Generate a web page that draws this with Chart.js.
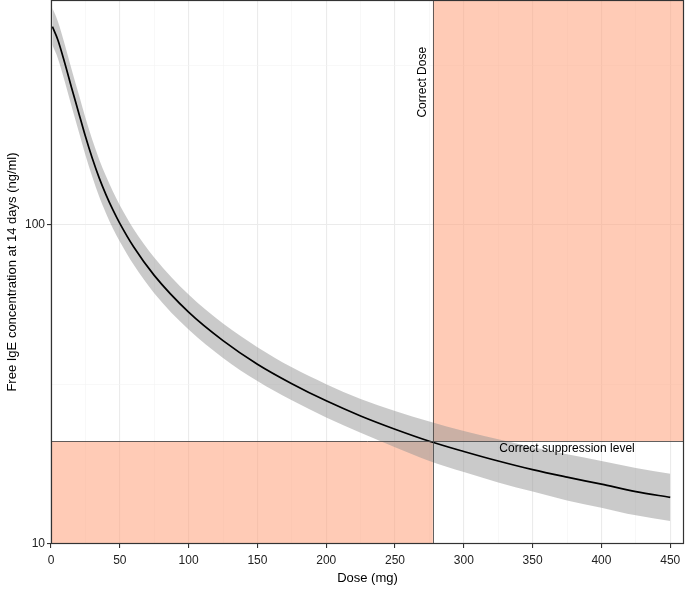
<!DOCTYPE html>
<html>
<head>
<meta charset="utf-8">
<script src="https://cdn.jsdelivr.net/npm/chart.js@4/dist/chart.umd.min.js"></script>
<style>
  html, body { margin: 0; padding: 0; background: #fff; }
  canvas { display: block; }
</style>
</head>
<body>
<canvas id="grafico" width="685" height="590"></canvas>
<script>
// values
const doses = [1, 5, 10, 15, 20, 25, 30, 35, 40, 45, 50, 60, 75, 100, 125, 150, 175, 200, 225, 250, 275, 300, 325, 350, 375, 400, 425, 450];
const fitted = [418.4, 380.1, 321.9, 268.8, 225.7, 189.5, 161.7, 140.4, 124.2, 111.4, 101.1, 85.4, 69.5, 53.3, 43.4, 36.6, 31.8, 28.1, 25.2, 22.9, 21.0, 19.5, 18.2, 17.1, 16.2, 15.4, 14.6, 14.0];
const upperCI = [478.2, 434.4, 367.9, 307.2, 258.0, 216.6, 184.8, 160.5, 142.0, 127.3, 115.3, 97.2, 79.1, 60.5, 49.1, 41.4, 35.8, 31.7, 28.5, 26.1, 24.2, 22.6, 21.3, 20.1, 19.1, 18.2, 17.3, 16.6];
const lowerCI = [366.1, 332.6, 281.7, 235.2, 197.5, 165.8, 141.5, 122.8, 108.7, 97.5, 88.7, 75.1, 61.1, 47.0, 38.3, 32.4, 28.2, 24.9, 22.3, 20.1, 18.2, 16.8, 15.6, 14.6, 13.7, 13.0, 12.3, 11.8];

const correctDose = 277.5;
const suppressionLevel = 21;

const xTicks = [0, 25, 50, 75, 100, 125, 150, 175, 200, 225, 250, 275, 300, 325, 350, 375, 400, 425, 450];
const xLabelled = [0, 50, 100, 150, 200, 250, 300, 350, 400, 450];
const yTicks = [10, 31.62, 100, 316.2];
const yLabelled = [10, 100];

const pts = arr => doses.map((d, i) => ({ x: d, y: arr[i] }));

const salmon = 'rgba(255,160,122,0.55)';
const fuente = '"Liberation Sans", Arial, sans-serif';

const zonas = {
    id: 'zonas',
    beforeDatasetsDraw(chart) {
        const { ctx, chartArea: a, scales: { x, y } } = chart;
        const xd = x.getPixelForValue(correctDose);
        const ys = y.getPixelForValue(suppressionLevel);
        ctx.save();
        ctx.fillStyle = salmon;
        // above suppression level, right of correct dose
        ctx.fillRect(xd, a.top, a.right - xd, ys - a.top);
        // below suppression level, left of correct dose
        ctx.fillRect(a.left, ys, xd - a.left, a.bottom - ys);
        ctx.restore();
    },
    afterDatasetsDraw(chart) {
        const { ctx, chartArea: a, scales: { x, y } } = chart;
        const xd = x.getPixelForValue(correctDose);
        const ys = y.getPixelForValue(suppressionLevel);
        ctx.save();
        ctx.strokeStyle = 'rgba(70,70,70,0.85)';
        ctx.lineWidth = 1;
        ctx.beginPath();
        ctx.moveTo(Math.round(xd) + 0.5, a.top);
        ctx.lineTo(Math.round(xd) + 0.5, a.bottom);
        ctx.moveTo(a.left, Math.round(ys) + 0.5);
        ctx.lineTo(a.right, Math.round(ys) + 0.5);
        ctx.stroke();

        // panel border
        ctx.strokeStyle = '#333';
        ctx.lineWidth = 1.2;
        ctx.strokeRect(a.left + 0.5, a.top + 0.5, a.right - a.left - 1, a.bottom - a.top - 1);

        ctx.fillStyle = '#000';
        ctx.font = '12px ' + fuente;
        ctx.textAlign = 'center';
        ctx.textBaseline = 'top';
        ctx.fillText('Correct suppression level', x.getPixelForValue(375), ys + 1);

        ctx.translate(xd - 4, y.getPixelForValue(280));
        ctx.rotate(-Math.PI / 2);
        ctx.textBaseline = 'bottom';
        ctx.fillText('Correct Dose', 0, 0);
        ctx.restore();
    }
};

const ctx = document.getElementById('grafico').getContext('2d');
new Chart(ctx, {
    type: 'line',
    data: {
        datasets: [
            {
                label: 'lower',
                data: pts(lowerCI),
                order: 2,
                borderWidth: 0,
                pointRadius: 0,
                fill: false,
                cubicInterpolationMode: 'monotone'
            },
            {
                label: 'upper',
                data: pts(upperCI),
                order: 1,
                borderWidth: 0,
                pointRadius: 0,
                backgroundColor: 'rgba(150,150,150,0.5)',
                fill: '-1',
                cubicInterpolationMode: 'monotone'
            },
            {
                label: 'fit',
                data: pts(fitted),
                order: 0,
                borderColor: '#000',
                borderWidth: 1.7,
                pointRadius: 0,
                fill: false,
                cubicInterpolationMode: 'monotone'
            }
        ]
    },
    options: {
        responsive: false,
        animation: false,
        layout: { padding: { top: 0, right: 1, left: 0, bottom: 0 } },
        plugins: {
            legend: { display: false },
            tooltip: { enabled: false }
        },
        scales: {
            x: {
                type: 'linear',
                min: 0,
                max: 460,
                afterBuildTicks: s => { s.ticks = xTicks.map(v => ({ value: v })); },
                afterFit: s => { s.height = 46; s.paddingLeft = 0; s.paddingRight = 0; },
                ticks: {
                    autoSkip: false,
                    maxRotation: 0,
                    padding: 5,
                    color: '#222',
                    font: { family: fuente, size: 12 },
                    callback: v => xLabelled.includes(v) ? String(v) : ''
                },
                grid: {
                    color: c => (c.tick && xLabelled.includes(c.tick.value)) ? '#ebebeb' : '#f3f3f3',
                    lineWidth: c => (c.tick && xLabelled.includes(c.tick.value)) ? 1.1 : 0.6,
                    tickColor: c => (c.tick && xLabelled.includes(c.tick.value)) ? '#333' : 'rgba(0,0,0,0)',
                    tickLength: 4,
                    tickWidth: 1.1
                },
                border: { display: false },
                title: {
                    display: true,
                    text: 'Dose (mg)',
                    color: '#000',
                    padding: { top: 3, bottom: 4 },
                    font: { family: fuente, size: 13 }
                }
            },
            y: {
                type: 'logarithmic',
                min: 10,
                max: 507,
                afterBuildTicks: s => { s.ticks = yTicks.map(v => ({ value: v })); },
                afterFit: s => { s.width = 51; s.paddingTop = 0; s.paddingBottom = 0; },
                ticks: {
                    autoSkip: false,
                    padding: 2,
                    color: '#222',
                    font: { family: fuente, size: 12 },
                    callback: v => yLabelled.includes(v) ? String(v) : ''
                },
                grid: {
                    color: c => (c.tick && yLabelled.includes(c.tick.value)) ? '#ebebeb' : '#f3f3f3',
                    lineWidth: c => (c.tick && yLabelled.includes(c.tick.value)) ? 1.1 : 0.6,
                    tickColor: c => (c.tick && yLabelled.includes(c.tick.value)) ? '#333' : 'rgba(0,0,0,0)',
                    tickLength: 4,
                    tickWidth: 1.1
                },
                border: { display: false },
                title: {
                    display: true,
                    text: 'Free IgE concentration at 14 days (ng/ml)',
                    color: '#000',
                    padding: { top: 5, bottom: 0 },
                    font: { family: fuente, size: 13 }
                }
            }
        }
    },
    plugins: [zonas]
});
</script>
</body>
</html>
